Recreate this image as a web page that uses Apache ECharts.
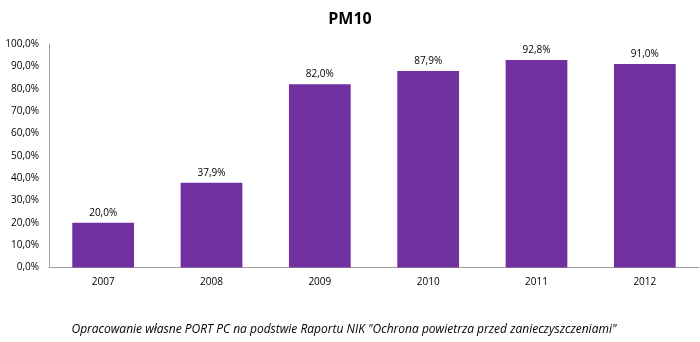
<!DOCTYPE html>
<html><head><meta charset="utf-8">
<script src="https://cdn.jsdelivr.net/npm/echarts@6/dist/echarts.min.js"></script>
<style>html,body{margin:0;padding:0;background:#fff}#c{width:700px;height:342px}</style>
</head><body><div id="c"></div>
<script>
const categories = ['2007','2008','2009','2010','2011','2012'];
const values = [20.0, 37.9, 82.0, 87.9, 92.8, 91.0];
const yTicks = [0,10,20,30,40,50,60,70,80,90,100];
const fmt = v => v.toFixed(1).replace('.', ',') + '%';
const chart = echarts.init(document.getElementById('c'));
chart.setOption({
  animation: false,
  backgroundColor: '#fff',
  title: [{
    text: 'PM10', left: 'center', top: 6,
    textStyle: {fontFamily: 'Open Sans', fontWeight: 'bold', fontSize: 16, color: '#000'}
  },{
    text: 'Opracowanie własne PORT PC na podstwie Raportu NIK "Ochrona powietrza przed zanieczyszczeniami"',
    left: 339, textAlign: 'center', top: 319,
    textStyle: {fontFamily: 'Open Sans', fontStyle: 'italic', fontWeight: 'normal', fontSize: 12, color: '#000'}
  }],
  grid: {left: 49, right: 1, top: 44, bottom: 74.5},
  xAxis: {
    type: 'category', data: categories,
    axisLine: {lineStyle: {color: '#a0a0a0'}},
    axisTick: {show: false},
    axisLabel: {color: '#000', fontFamily: 'Open Sans', fontSize: 10, margin: 10}
  },
  yAxis: {
    type: 'value', min: yTicks[0], max: yTicks[yTicks.length - 1], interval: 10,
    axisLine: {show: true, lineStyle: {color: '#a0a0a0'}},
    axisTick: {show: false},
    splitLine: {show: false},
    axisLabel: {color: '#000', fontFamily: 'Open Sans', fontSize: 10, margin: 10, formatter: v => fmt(v)}
  },
  series: [{
    type: 'bar', data: values, barCategoryGap: '43%',
    itemStyle: {color: '#7030A0'},
    label: {show: true, position: 'top', color: '#000', fontFamily: 'Open Sans', fontSize: 10, distance: 5,
      formatter: p => fmt(p.value)}
  }]
});
</script></body></html>
